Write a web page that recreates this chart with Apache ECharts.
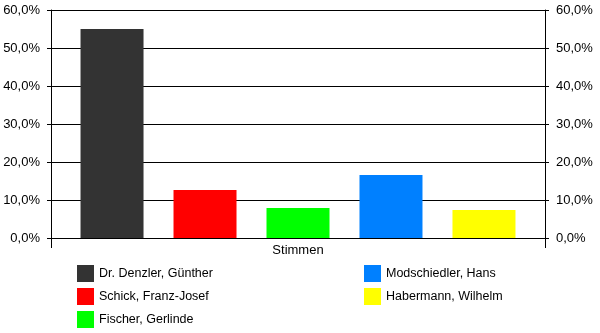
<!DOCTYPE html>
<html><head><meta charset="utf-8">
<script src="https://cdn.jsdelivr.net/npm/echarts@6/dist/echarts.min.js"></script>
<style>html,body{margin:0;padding:0;background:#fff}#c{width:600px;height:333px}</style>
</head><body><div id="c"></div>
<script>
var categories = ['Stimmen'];
var seriesNames = ['Dr. Denzler, Günther', 'Schick, Franz-Josef', 'Fischer, Gerlinde', 'Modschiedler, Hans', 'Habermann, Wilhelm'];
var seriesValues = [55.0, 12.6, 7.9, 16.6, 7.4];
var seriesColors = ['#333333', '#ff0000', '#00ff00', '#0080ff', '#ffff00'];
var yTicks = [0, 10, 20, 30, 40, 50, 60];

var font = 'Arial, "Liberation Sans", sans-serif';
function fmt(v){ return v.toFixed(1).replace('.', ',') + '%'; }

var chart = echarts.init(document.getElementById('c'), null, {renderer: 'canvas'});
var series = seriesNames.map(function(n, i){
  return {
    name: n, type: 'bar', yAxisIndex: 0,
    data: [seriesValues[i]],
    barWidth: 63, barGap: '47.6%',
    itemStyle: {color: seriesColors[i]},
    animation: false
  };
});
var yAxisBase = {
  type: 'value', min: yTicks[0], max: yTicks[yTicks.length-1], interval: 10,
  axisLine: {show: true, lineStyle: {color: '#000', width: 1}},
  axisTick: {show: true, inside: false, length: 4, lineStyle: {color: '#000'}},
  axisLabel: {formatter: fmt, color: '#000', fontFamily: font, fontSize: 13, margin: 11}
};
var legendBase = {orient: 'vertical', top: 265, height: 68, padding: 0, itemWidth: 17, itemHeight: 17, itemGap: 6, icon: 'rect',
  textStyle: {color: '#000', fontFamily: font, fontSize: 12.5}, selectedMode: false};
chart.setOption({
  animation: false,
  backgroundColor: '#fff',
  grid: {left: 51, right: 55, top: 10, bottom: 95, containLabel: false},
  legend: [
    Object.assign({}, legendBase, {data: seriesNames.slice(0, 3), left: 77}),
    Object.assign({}, legendBase, {data: seriesNames.slice(3), left: 364})
  ],
  xAxis: {
    type: 'category', data: categories, boundaryGap: true,
    axisLine: {show: true, lineStyle: {color: '#000', width: 1}},
    axisTick: {show: true, length: 10, alignWithLabel: false, lineStyle: {color: '#000'}},
    axisLabel: {color: '#000', fontFamily: font, fontSize: 13, margin: 6},
    splitLine: {show: false}
  },
  yAxis: [
    Object.assign({}, yAxisBase, {position: 'left', splitLine: {show: true, lineStyle: {color: '#000', width: 1}}}),
    Object.assign({}, yAxisBase, {position: 'right', splitLine: {show: false}})
  ],
  series: series
});
</script></body></html>
